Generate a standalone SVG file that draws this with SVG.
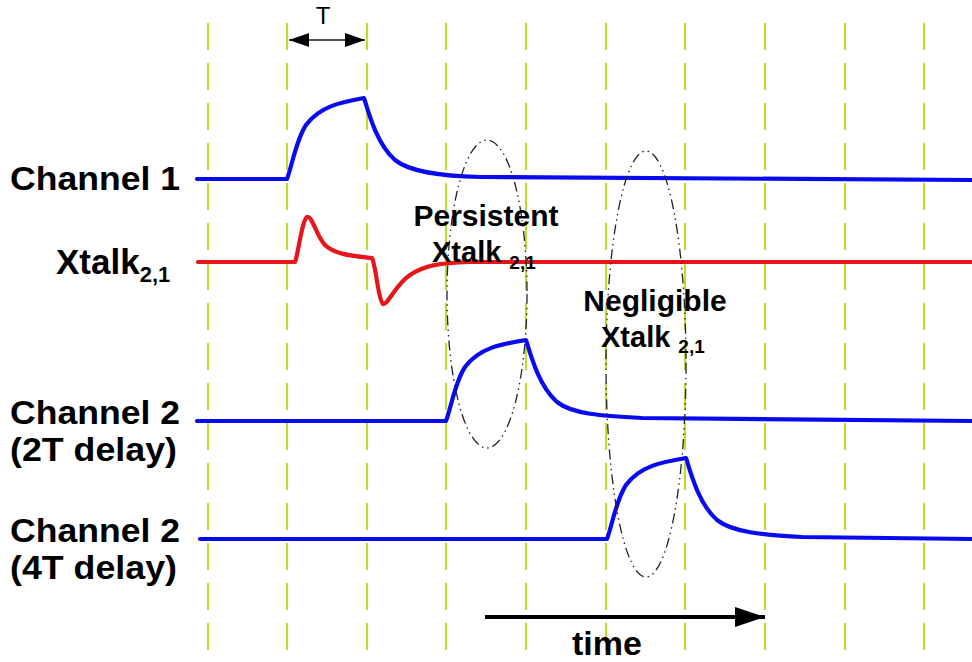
<svg xmlns="http://www.w3.org/2000/svg" width="972" height="662" viewBox="0 0 972 662">
<defs>
<style>
.grid line{stroke:#b9dc3a;stroke-width:2.2;stroke-dasharray:27 13}
.wave{fill:none;stroke-width:4.2;stroke-linejoin:round;stroke-linecap:round}
.blue{stroke:#0a0af0}
.red{stroke:#e8141a}
.lbl{font-family:"Liberation Sans",Arial,sans-serif;font-weight:bold;fill:#000}
.ell{fill:none;stroke:#222;stroke-width:1.3;stroke-dasharray:10 4 1.5 4 1.5 4}
</style>
<marker id="ah" viewBox="0 0 20 14" refX="20" refY="7" markerWidth="20" markerHeight="14" markerUnits="userSpaceOnUse" orient="auto-start-reverse">
<path d="M0,0 L20,7 L0,14 Z" fill="#000"/>
</marker>
<marker id="ahBig" viewBox="0 0 30 20" refX="30" refY="10" markerWidth="30" markerHeight="20" markerUnits="userSpaceOnUse" orient="auto">
<path d="M0,0 L30,10 L0,20 Z" fill="#000"/>
</marker>
</defs>
<rect width="972" height="662" fill="#fff"/>
<g id="grid" class="grid">
<line x1="208" y1="23" x2="208" y2="662"/>
<line x1="287" y1="23" x2="287" y2="662"/>
<line x1="367" y1="23" x2="367" y2="662"/>
<line x1="446" y1="23" x2="446" y2="662"/>
<line x1="526" y1="23" x2="526" y2="662"/>
<line x1="606" y1="23" x2="606" y2="662"/>
<line x1="685" y1="23" x2="685" y2="662"/>
<line x1="765" y1="23" x2="765" y2="662"/>
<line x1="845" y1="23" x2="845" y2="662"/>
<line x1="924" y1="23" x2="924" y2="662"/>
</g>
<g id="channel1">
<path class="wave blue" d="M197,179 L287,179 C292,166 296,140 306,125 C320,106 342,102 364,98 C370,118 378,145 395,160 C410,172 440,176 480,177 L972,180"/>
<text class="lbl" x="10" y="190" font-size="34" textLength="170" lengthAdjust="spacingAndGlyphs">Channel 1</text>
</g>
<g id="xtalk">
<path class="wave red" d="M198,262 L295,262 C298,255 302,220 307,217 C312,215 316,235 325,245 C335,255 355,256 372,258 C376,265 378,300 383,304 C388,305 395,285 410,275 C425,265 440,263 470,262 L972,262"/>
<text class="lbl" x="56" y="274" font-size="35">Xtalk<tspan font-size="22" dy="8">2,1</tspan></text>
</g>
<g id="channel2-2T">
<path class="wave blue" d="M197,421 L446,421 C451,408 455,382 465,367 C479,348 501,344 526,340 C532,360 540,387 557,402 C572,414 602,416 642,418 L972,421"/>
<text class="lbl" x="10" y="424" font-size="34" textLength="170" lengthAdjust="spacingAndGlyphs">Channel 2</text>
<text class="lbl" x="10" y="461" font-size="34" textLength="167" lengthAdjust="spacingAndGlyphs">(2T delay)</text>
</g>
<g id="channel2-4T">
<path class="wave blue" d="M200,539 L607,539 C612,526 616,500 626,485 C640,466 662,462 686,458 C692,478 700,505 717,520 C732,532 762,535 802,537 L972,539"/>
<text class="lbl" x="10" y="542" font-size="34" textLength="170" lengthAdjust="spacingAndGlyphs">Channel 2</text>
<text class="lbl" x="10" y="579" font-size="34" textLength="167" lengthAdjust="spacingAndGlyphs">(4T delay)</text>
</g>
<g id="persistent">
<ellipse class="ell" cx="487" cy="294" rx="40" ry="154"/>
<text class="lbl" x="486" y="226" font-size="30" text-anchor="middle">Persistent</text>
<text class="lbl" x="432" y="262" font-size="29">Xtalk<tspan font-size="19" dx="8" dy="7">2,1</tspan></text>
</g>
<g id="negligible">
<ellipse class="ell" cx="646" cy="364" rx="40" ry="213"/>
<text class="lbl" x="655" y="311" font-size="30" text-anchor="middle">Negligible</text>
<text class="lbl" x="601" y="347" font-size="29">Xtalk<tspan font-size="19" dx="8" dy="6">2,1</tspan></text>
</g>
<g id="connectors">
<line x1="289" y1="40" x2="365" y2="40" stroke="#555" stroke-width="2" marker-start="url(#ah)" marker-end="url(#ah)"/>
<line x1="485" y1="617" x2="765" y2="617" stroke="#000" stroke-width="4" marker-end="url(#ahBig)"/>
</g>
<g id="period-label">
<text x="323" y="24" font-family="Liberation Sans,Arial,sans-serif" font-size="24" text-anchor="middle" fill="#000">T</text>
</g>
<g id="time-label">
<text class="lbl" x="607" y="655" font-size="34" text-anchor="middle">time</text>
</g>
</svg>
